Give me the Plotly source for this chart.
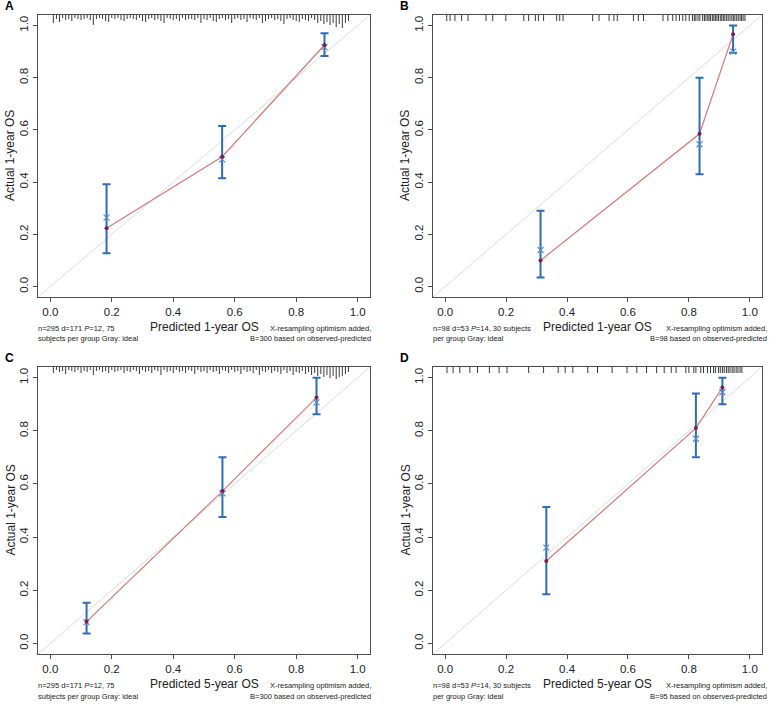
import plotly.graph_objects as go

W, H = 772, 705

# ---------------- data ----------------
# Panel A: predicted 1-year OS (n=295)
a_pred = [0.183, 0.559, 0.892]
a_apparent = [0.223, 0.497, 0.925]
a_corrected = [0.264, 0.487, 0.917]
a_lower = [0.128, 0.415, 0.883]
a_upper = [0.392, 0.615, 0.970]

# Panel B: predicted 1-year OS (n=98)
b_pred = [0.313, 0.835, 0.945]
b_apparent = [0.100, 0.585, 0.966]
b_corrected = [0.140, 0.545, 0.900]
b_lower = [0.035, 0.430, 0.895]
b_upper = [0.290, 0.800, 1.000]

# Panel C: predicted 5-year OS (n=295)
c_pred = [0.118, 0.560, 0.866]
c_apparent = [0.082, 0.573, 0.925]
c_corrected = [0.080, 0.565, 0.907]
c_lower = [0.037, 0.476, 0.862]
c_upper = [0.153, 0.700, 1.000]

# Panel D: predicted 5-year OS (n=98)
d_pred = [0.332, 0.823, 0.910]
d_apparent = [0.310, 0.810, 0.963]
d_corrected = [0.360, 0.770, 0.945]
d_lower = [0.185, 0.700, 0.900]
d_upper = [0.513, 0.940, 1.000]

# Spike histograms of predicted values (top rug)
a_rug_x = [0.01, 0.02, 0.03, 0.04, 0.05, 0.06, 0.07, 0.08, 0.09, 0.10,
           0.11, 0.12, 0.13, 0.14, 0.15, 0.16, 0.17, 0.18, 0.19, 0.20,
           0.21, 0.22, 0.23, 0.24, 0.25, 0.26, 0.27, 0.28, 0.29, 0.30,
           0.31, 0.32, 0.33, 0.34, 0.35, 0.36, 0.37, 0.38, 0.39, 0.40,
           0.41, 0.42, 0.43, 0.44, 0.45, 0.46, 0.47, 0.48, 0.49, 0.50,
           0.51, 0.52, 0.53, 0.54, 0.55, 0.56, 0.57, 0.58, 0.59, 0.60,
           0.61, 0.62, 0.63, 0.64, 0.65, 0.66, 0.67, 0.68, 0.69, 0.70,
           0.71, 0.72, 0.73, 0.74, 0.75, 0.76, 0.77, 0.78, 0.79, 0.80,
           0.81, 0.82, 0.83, 0.84, 0.85, 0.86, 0.87, 0.88, 0.89, 0.90,
           0.91, 0.92, 0.93, 0.94, 0.95, 0.96, 0.97]
a_rug_h = [8, 4, 7, 3, 5, 4, 6, 3, 4, 5,
           4, 3, 5, 10, 4, 3, 4, 6, 7, 3,
           4, 3, 5, 6, 4, 3, 4, 5, 3, 6,
           7, 4, 3, 5, 4, 6, 8, 3, 4, 5,
           4, 6, 3, 5, 4, 4, 5, 3, 8, 4,
           5, 3, 6, 7, 4, 3, 5, 4, 8, 4,
           3, 5, 4, 7, 3, 4, 5, 3, 8, 6,
           4, 3, 5, 4, 6, 9, 4, 3, 5, 6,
           7, 4, 5, 6, 3, 5, 8, 6, 9, 7,
           10, 8, 12, 9, 13, 8, 6]
c_rug_x = a_rug_x
c_rug_h = [6, 3, 5, 4, 7, 3, 4, 5, 3, 6,
           4, 5, 3, 8, 4, 3, 5, 4, 6, 3,
           5, 4, 3, 6, 4, 5, 3, 4, 7, 3,
           5, 4, 6, 3, 4, 8, 3, 5, 4, 6,
           3, 5, 4, 6, 3, 4, 7, 3, 5, 4,
           6, 3, 5, 4, 7, 3, 4, 6, 3, 5,
           4, 7, 3, 5, 4, 6, 3, 8, 4, 5,
           3, 6, 4, 5, 7, 3, 6, 4, 8, 5,
           6, 4, 7, 5, 8, 6, 9, 7, 10, 8,
           11, 9, 12, 10, 9, 7, 5]
b_rug_x = [0.005, 0.016, 0.032, 0.054, 0.075, 0.134, 0.156, 0.199, 0.258,
           0.274, 0.296, 0.306, 0.323, 0.366, 0.376, 0.387, 0.484, 0.505,
           0.538, 0.554, 0.565, 0.618, 0.634, 0.651, 0.715, 0.731, 0.747,
           0.758, 0.769, 0.780, 0.790, 0.801, 0.812, 0.818, 0.823, 0.830,
           0.836, 0.845, 0.851, 0.856, 0.862, 0.866, 0.871, 0.877, 0.882,
           0.887, 0.892, 0.897, 0.903, 0.908, 0.913, 0.918, 0.924, 0.929,
           0.935, 0.941, 0.946, 0.951, 0.957, 0.962, 0.968, 0.973, 0.978,
           0.984]
d_rug_x = [0.006, 0.026, 0.048, 0.081, 0.106, 0.145, 0.177, 0.203, 0.274,
           0.323, 0.371, 0.394, 0.419, 0.468, 0.500, 0.548, 0.597, 0.629,
           0.661, 0.694, 0.719, 0.742, 0.758, 0.790, 0.800, 0.816, 0.823,
           0.839, 0.848, 0.861, 0.871, 0.881, 0.887, 0.897, 0.903, 0.910,
           0.916, 0.923, 0.929, 0.935, 0.942, 0.948, 0.955, 0.961, 0.968,
           0.974]
rug_uniform_h = 6

tick_vals = [0.0, 0.2, 0.4, 0.6, 0.8, 1.0]
tick_text = ["0.0", "0.2", "0.4", "0.6", "0.8", "1.0"]
x_titles = ["Predicted 1-year OS", "Predicted 1-year OS", "Predicted 5-year OS", "Predicted 5-year OS"]
y_title = "Actual 1-year OS"
letters = ["A", "B", "C", "D"]
foot_left = [["n=295 d=171 <i>P</i>=12, 75", "subjects per group Gray: ideal"],
             ["n=98 d=53 <i>P</i>=14, 30 subjects", "per group Gray: ideal"],
             ["n=295 d=171 <i>P</i>=12, 75", "subjects per group Gray: ideal"],
             ["n=98 d=53 <i>P</i>=14, 30 subjects", "per group Gray: ideal"]]
foot_right = [["X-resampling optimism added,", "B=300 based on observed-predicted"],
              ["X-resampling optimism added,", "B=98 based on observed-predicted"],
              ["X-resampling optimism added,", "B=300 based on observed-predicted"],
              ["X-resampling optimism added,", "B=95 based on observed-predicted"]]

# ---------------- layout geometry (pixels) ----------------
boxes = [(38, 370, 15, 297), (433, 762, 15, 297),
         (38, 370, 367, 654), (433, 762, 367, 654)]
foot_right_x = [373, 769, 373, 769]
RNG = [-0.04, 1.04]
FONT = "Liberation Sans, Arial, sans-serif"

RED_LINE = "#d7777a"
DOT = "#7a1f3d"
BLUE = "#2e6db4"
XBLUE = "#5b8dd0"
IDEAL = "#dcdcdc"
AXC = "#4d4d4d"

fig = go.Figure()

panels = [
    (a_pred, a_apparent, a_corrected, a_lower, a_upper, a_rug_x, a_rug_h),
    (b_pred, b_apparent, b_corrected, b_lower, b_upper, b_rug_x, None),
    (c_pred, c_apparent, c_corrected, c_lower, c_upper, c_rug_x, c_rug_h),
    (d_pred, d_apparent, d_corrected, d_lower, d_upper, d_rug_x, None),
]

annotations = []
for i, (pred, app, cor, lo, up, rx, rh) in enumerate(panels):
    k = "" if i == 0 else str(i + 1)
    xa, ya = "x" + k, "y" + k
    x0, x1, y0, y1 = boxes[i]
    box_h = y1 - y0
    px_per_unit = box_h / (RNG[1] - RNG[0])

    # ideal line
    fig.add_trace(go.Scatter(x=RNG, y=RNG, mode="lines", xaxis=xa, yaxis=ya,
                             line=dict(color=IDEAL, width=1), hoverinfo="skip",
                             showlegend=False))
    # rug spikes from the top edge
    heights = rh if rh is not None else [rug_uniform_h] * len(rx)
    sx, sy = [], []
    for xv, hv in zip(rx, heights):
        sx += [xv, xv, None]
        sy += [RNG[1], RNG[1] - hv / px_per_unit, None]
    fig.add_trace(go.Scatter(x=sx, y=sy, mode="lines", xaxis=xa, yaxis=ya,
                             line=dict(color="#3a3a3a", width=1), hoverinfo="skip",
                             showlegend=False))
    # apparent calibration line
    fig.add_trace(go.Scatter(x=pred, y=app, mode="lines", xaxis=xa, yaxis=ya,
                             line=dict(color=RED_LINE, width=1.2), showlegend=False))
    # error bars
    fig.add_trace(go.Scatter(
        x=pred, y=app, mode="markers", xaxis=xa, yaxis=ya,
        marker=dict(size=1, color="rgba(0,0,0,0)"),
        error_y=dict(type="data", symmetric=False,
                     array=[u - a for u, a in zip(up, app)],
                     arrayminus=[a - l for a, l in zip(app, lo)],
                     color=BLUE, thickness=2, width=4),
        showlegend=False))
    # bias-corrected x marks
    fig.add_trace(go.Scatter(x=pred, y=cor, mode="markers", xaxis=xa, yaxis=ya,
                             marker=dict(symbol="x-thin", size=6,
                                         line=dict(color=XBLUE, width=1.2)),
                             showlegend=False))
    # apparent dots
    fig.add_trace(go.Scatter(x=pred, y=app, mode="markers", xaxis=xa, yaxis=ya,
                             marker=dict(symbol="circle", size=4, color=DOT),
                             showlegend=False))

    dom_x = [x0 / W, x1 / W]
    dom_y = [1 - y1 / H, 1 - y0 / H]
    axis_common = dict(range=RNG, showgrid=False, zeroline=False, showline=True,
                       mirror=True, linecolor=AXC, linewidth=1, ticks="outside",
                       ticklen=4, tickcolor=AXC, tickvals=tick_vals, ticktext=tick_text,
                       tickfont=dict(family=FONT, size=11.5, color="#222"))
    fig.layout["xaxis" + k] = dict(domain=dom_x, anchor=ya, **axis_common)
    fig.layout["yaxis" + k] = dict(domain=dom_y, anchor=xa, tickangle=-90, **axis_common)

    cx = (x0 + x1) / 2
    cy = (y0 + y1) / 2
    annotations.append(dict(text="<b>" + letters[i] + "</b>", x=(x0 - 35) / W, y=1 - (y0 - 9) / H,
                            xref="paper", yref="paper", showarrow=False,
                            xanchor="left", yanchor="middle",
                            font=dict(family=FONT, size=12, color="#000")))
    annotations.append(dict(text=y_title, x=(x0 - 28) / W, y=1 - cy / H, xref="paper",
                            yref="paper", showarrow=False, textangle=-90,
                            xanchor="center", yanchor="middle",
                            font=dict(family=FONT, size=12, color="#222")))
    annotations.append(dict(text=x_titles[i], x=cx / W, y=1 - (y1 + 30) / H, xref="paper",
                            yref="paper", showarrow=False, xanchor="center", yanchor="middle",
                            font=dict(family=FONT, size=12, color="#222")))
    for j in range(2):
        annotations.append(dict(text=foot_left[i][j], x=(x0 - 2) / W,
                                y=1 - (y1 + 31 + 11 * j) / H, xref="paper", yref="paper",
                                showarrow=False, xanchor="left", yanchor="middle",
                                font=dict(family=FONT, size=7.5, color="#222")))
        annotations.append(dict(text=foot_right[i][j], x=foot_right_x[i] / W,
                                y=1 - (y1 + 31 + 11 * j) / H, xref="paper", yref="paper",
                                showarrow=False, xanchor="right", yanchor="middle",
                                font=dict(family=FONT, size=7.5, color="#222")))

fig.update_layout(width=W, height=H, margin=dict(l=0, r=0, t=0, b=0),
                  paper_bgcolor="white", plot_bgcolor="white",
                  showlegend=False, annotations=annotations)

fig.write_html("out.html", config={"displayModeBar": False},
               post_script="document.body.style.margin='0';")
